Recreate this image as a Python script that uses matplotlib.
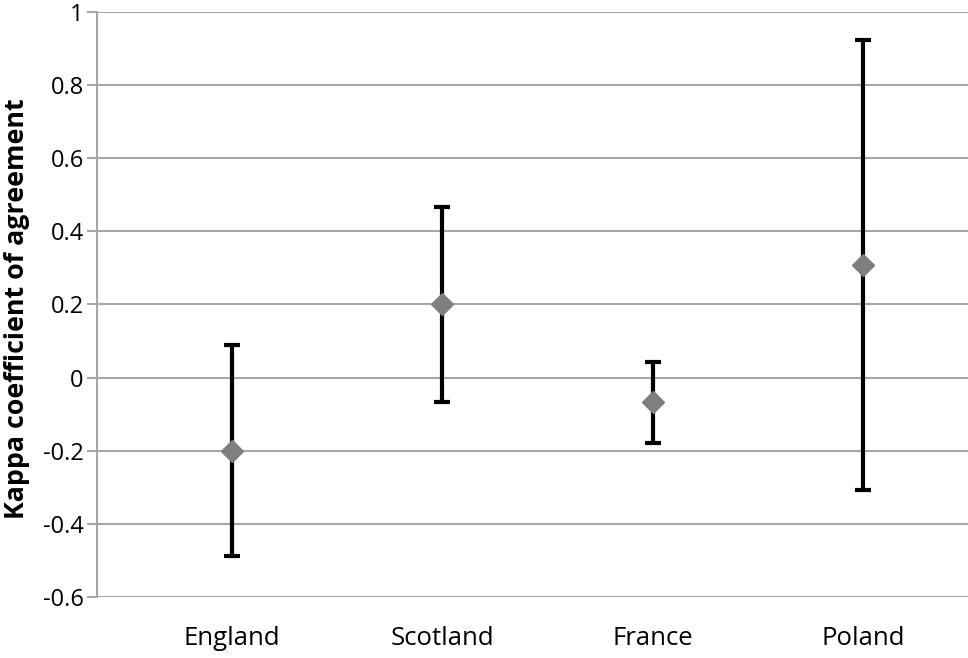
import matplotlib.pyplot as plt
import numpy as np

countries = ["England", "Scotland", "France", "Poland"]
kappa = [-0.20, 0.20, -0.067, 0.308]
upper = [0.089, 0.467, 0.043, 0.923]
lower = [-0.488, -0.067, -0.178, -0.307]

plt.rcParams['font.family'] = ['Open Sans', 'DejaVu Sans']

fig = plt.figure(figsize=(9.68, 6.58), dpi=100)
ax = fig.add_axes([0.1002, 0.0927, 0.8998, 0.8891])

x = np.arange(len(countries))
k = np.array(kappa)
yerr = [k - np.array(lower), np.array(upper) - k]

ax.errorbar(x, k, yerr=yerr, fmt='none', ecolor='black', elinewidth=3,
            capsize=6, capthick=3, zorder=3)
ax.plot(x, k, linestyle='none', marker='D', markersize=11.5,
        color='#7f7f7f', zorder=4)

ax.set_ylim(-0.6, 1)
ax.set_xlim(-0.642, 3.5)
ax.set_yticks(np.arange(-0.6, 1.01, 0.2))
ax.set_yticklabels(["-0.6", "-0.4", "-0.2", "0", "0.2", "0.4", "0.6", "0.8", "1"])
ax.set_xticks(x)
ax.set_xticklabels(countries)

ax.grid(axis='y', color='#a6a6a6', linewidth=1.5)
ax.set_axisbelow(True)
for s in ['top', 'right', 'bottom']:
    ax.spines[s].set_visible(False)
ax.spines['left'].set_color('#a6a6a6')
ax.spines['left'].set_linewidth(1.5)

ax.tick_params(axis='y', length=7, width=1.5, color='#a6a6a6',
               labelsize=17, pad=2.5)
ax.tick_params(axis='x', length=0, labelsize=18.5, pad=21)
ax.set_ylabel("Kappa coefficient of agreement", fontsize=19.3,
              fontweight='bold')
ax.yaxis.set_label_coords(-0.077, 0.493)

fig.savefig("out.png", dpi=100)
